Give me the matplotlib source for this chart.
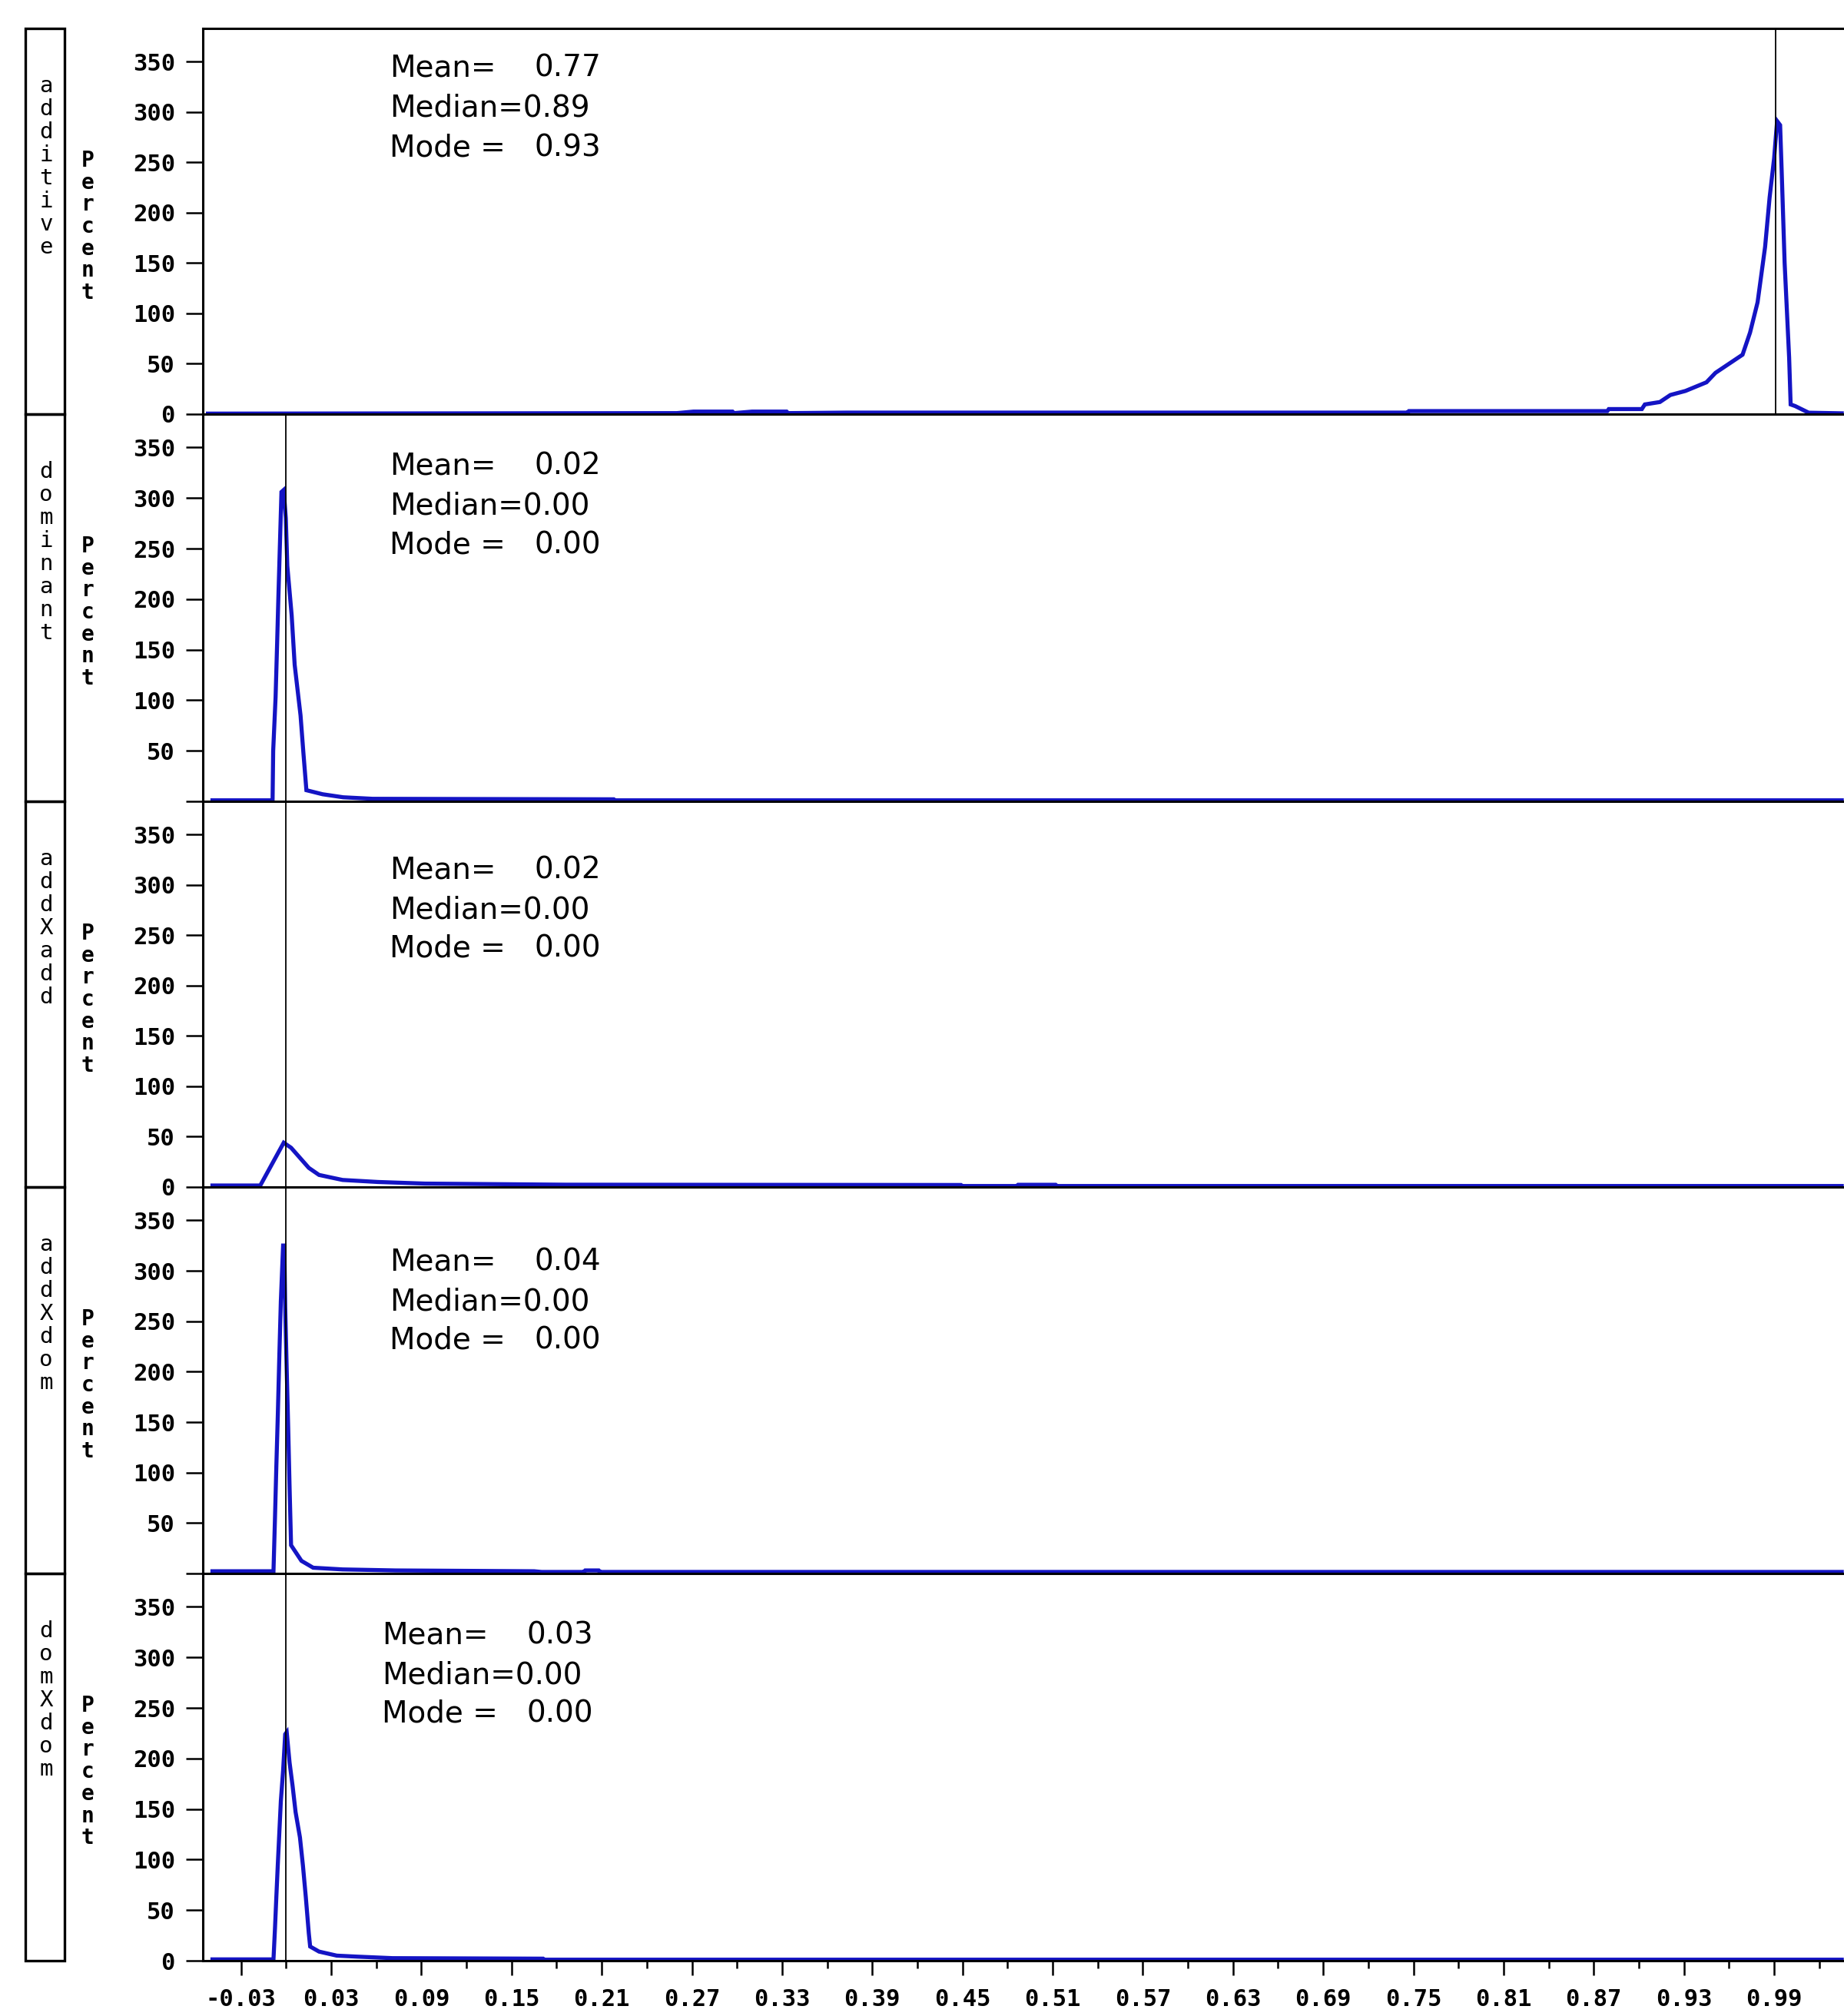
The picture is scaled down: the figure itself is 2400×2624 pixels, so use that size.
import matplotlib
matplotlib.use("Agg")
import matplotlib.pyplot as plt
from matplotlib.patches import Rectangle

# Panel names and summary stats
panel_names = ["additive", "dominant", "addXadd", "addXdom", "domXdom"]
mean_vals = ["0.77", "0.02", "0.02", "0.04", "0.03"]
median_vals = ["0.89", "0.00", "0.00", "0.00", "0.00"]
mode_vals = ["0.93", "0.00", "0.00", "0.00", "0.00"]
# where the vertical reference line sits in each panel
vline_x = [0.991, 0.0, 0.0, 0.0, 0.0]

# Curves (x = value, y = percent)
additive_x = [-0.052, 0.26, 0.271, 0.297, 0.298, 0.310, 0.333, 0.334, 0.373, 0.746,
              0.747, 0.879, 0.880, 0.902, 0.904, 0.914, 0.921, 0.931, 0.945, 0.951,
              0.969, 0.974, 0.979, 0.984, 0.987, 0.990, 0.992, 0.994, 0.995, 0.997,
              1.000, 1.001, 1.004, 1.013, 1.035]
additive_y = [0.5, 1.0, 2.5, 2.5, 1.0, 2.5, 2.5, 1.0, 1.5, 1.5,
              3.0, 3.0, 5.0, 5.0, 9.6, 12, 19, 23, 31.6, 41,
              59, 81, 111, 166, 215, 254, 291, 287, 243, 150,
              56, 9.6, 8, 1.4, 0.8]

dominant_x = [-0.049, -0.0090, -0.0086, -0.0070, -0.0060, -0.0051, -0.0041, -0.0031,
              -0.0016, -0.0002, 0.0008, 0.0037, 0.0057, 0.0096, 0.0115, 0.0135,
              0.0243, 0.038, 0.0575, 0.218, 0.219, 1.035]
dominant_y = [1.0, 1.0, 50, 103, 155, 204, 255, 306,
              308, 280, 233, 184, 135, 85, 48, 11,
              7, 4, 2.5, 2.0, 1.0, 1.0]

addxadd_x = [-0.049, -0.0172, -0.0016, 0.0033, 0.0092, 0.0151, 0.0219, 0.0297,
             0.0376, 0.061, 0.0923, 0.186, 0.449, 0.450, 0.486, 0.487, 0.512,
             0.513, 1.035]
addxadd_y = [1.5, 1.5, 44, 39, 29, 19, 12, 9.5,
             7, 5, 3.4, 2.3, 2.0, 1.0, 1.0, 2.2, 2.2,
             1.0, 1.0]

addxdom_x = [-0.049, -0.0084, -0.0074, -0.0065, -0.0055, -0.0045, -0.0035, -0.0020,
             -0.0012, -0.0006, 0.0004, 0.0014, 0.0023, 0.0033, 0.0102, 0.018,
             0.0376, 0.0728, 0.165, 0.170, 0.198, 0.199, 0.208, 0.209, 1.035]
addxdom_y = [2.2, 2.2, 55, 106, 158, 216, 270, 325,
             325, 264, 202, 144, 86, 28, 12.5, 5.7,
             4, 3, 2.2, 1.5, 1.5, 3.0, 3.0, 1.5, 1.5]

domxdom_x = [-0.049, -0.0084, -0.0074, -0.0065, -0.0055, -0.0045, -0.0035, -0.0020,
             -0.0006, 0.0004, 0.0023, 0.0043, 0.0063, 0.0092, 0.0112, 0.0131,
             0.0151, 0.016, 0.0219, 0.0337, 0.0473, 0.0708, 0.171, 0.172, 1.035]
domxdom_y = [1.3, 1.3, 32, 63, 96, 127, 158, 188,
             224, 226, 196, 173, 147, 122, 94, 63,
             27, 14, 9, 5, 4, 2.5, 2.0, 1.0, 1.0]

curves_x = [additive_x, dominant_x, addxadd_x, addxdom_x, domxdom_x]
curves_y = [additive_y, dominant_y, addxadd_y, addxdom_y, domxdom_y]

y_ticks = [0, 50, 100, 150, 200, 250, 300, 350]
x_tick_labels = ["-0.03", "0.03", "0.09", "0.15", "0.21", "0.27", "0.33", "0.39",
                 "0.45", "0.51", "0.57", "0.63", "0.69", "0.75", "0.81", "0.87",
                 "0.93", "0.99"]

# layout in pixels of the 2400x2624 canvas
W, H = 2400, 2624
panel_top = [37, 539, 1043, 1545, 2048]
panel_bot = [539, 1043, 1545, 2048, 2552]
plot_left = 264
stat_x = [507, 507, 507, 507, 497]
stat_dy = [52, 67, 89, 97, 80]

blue = "#1414c4"
mono = "DejaVu Sans Mono"
stat_size = 28

fig = plt.figure(figsize=(24, 26.24), dpi=100)

for i in range(5):
    top, bot = panel_top[i], panel_bot[i]
    ax = fig.add_axes([plot_left / W, 1 - bot / H, 1 - plot_left / W, (bot - top) / H])
    ax.plot(curves_x[i], curves_y[i], color=blue, lw=3.8, solid_joinstyle="miter")
    ax.axvline(vline_x[i], color="black", lw=1.3)
    ax.set_xlim(-0.0554, 1.0365)
    ax.set_ylim(0, 383)
    for s in ["left", "top", "bottom"]:
        ax.spines[s].set_linewidth(2.2)
    ax.spines["right"].set_visible(False)

    ylabels = [str(t) for t in y_ticks]
    if i in (1, 3):
        ylabels[0] = ""
    ax.set_yticks(y_ticks)
    ax.set_yticklabels(ylabels, fontfamily=mono, fontweight="bold", fontsize=22)
    ax.tick_params(axis="y", direction="out", length=16, width=1.8, pad=10)

    if i == 4:
        xt = [float(t) for t in x_tick_labels]
        minor = [t + 0.03 for t in xt]
        ax.set_xticks(xt)
        ax.set_xticklabels(x_tick_labels, fontfamily=mono, fontweight="bold", fontsize=22)
        ax.set_xticks(minor, minor=True)
        ax.tick_params(axis="x", which="major", direction="out", length=14, width=1.8, pad=12)
        ax.tick_params(axis="x", which="minor", direction="out", length=7, width=1.8)
    else:
        ax.set_xticks([])

    # stats block
    y0 = top + stat_dy[i]
    x0 = stat_x[i]
    fig.text(x0 / W, 1 - y0 / H, "Mean=", fontsize=stat_size, va="center")
    fig.text((x0 + 189) / W, 1 - y0 / H, mean_vals[i], fontsize=stat_size, va="center")
    fig.text(x0 / W, 1 - (y0 + 52) / H, "Median=" + median_vals[i], fontsize=stat_size,
             va="center")
    fig.text(x0 / W, 1 - (y0 + 103) / H, "Mode =", fontsize=stat_size, va="center")
    fig.text((x0 + 189) / W, 1 - (y0 + 103) / H, mode_vals[i], fontsize=stat_size, va="center")

    # left name box with stacked letters
    fig.add_artist(Rectangle((33 / W, 1 - bot / H), 51 / W, (bot - top) / H,
                             fill=False, lw=2.4, edgecolor="black",
                             transform=fig.transFigure))
    for j, ch in enumerate(panel_names[i]):
        fig.text(60 / W, 1 - (top + 75 + j * 30) / H, ch, ha="center", va="center",
                 fontfamily=mono, fontsize=21)
    for j, ch in enumerate("Percent"):
        fig.text(114 / W, 1 - (top + 172 + j * 28.7) / H, ch, ha="center", va="center",
                 fontfamily=mono, fontweight="bold", fontsize=20)

fig.savefig("out.png", dpi=100)
